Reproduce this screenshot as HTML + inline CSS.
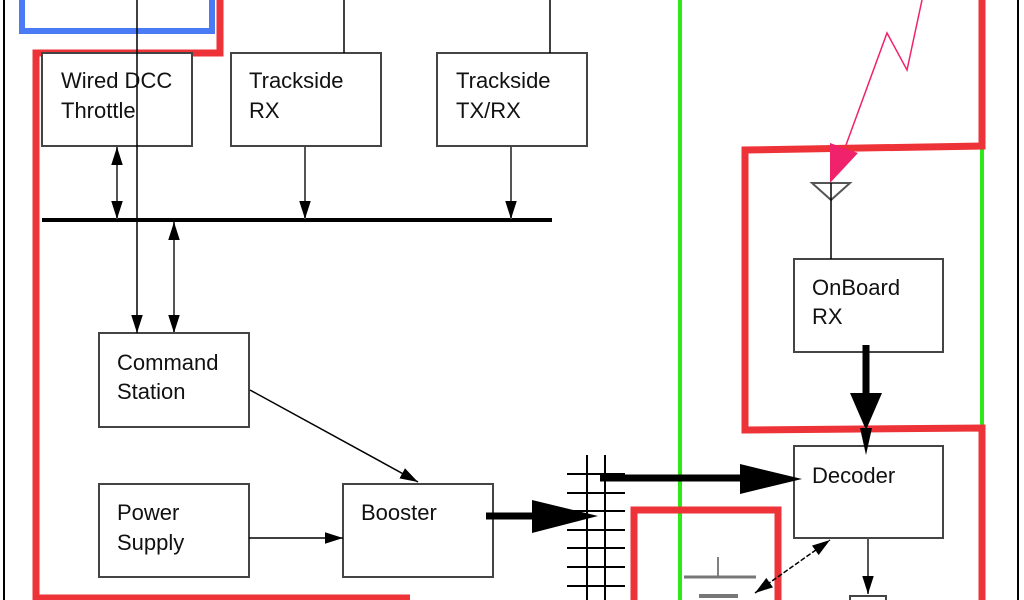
<!DOCTYPE html>
<html><head><meta charset="utf-8"><style>
html,body{margin:0;padding:0;background:#fff;}
svg{display:block;}
text{font-family:"Liberation Sans",sans-serif;font-size:22px;fill:#111;}
</style></head><body>
<svg width="1024" height="600" viewBox="0 0 1024 600" xmlns="http://www.w3.org/2000/svg">
<defs>
<marker id="a" viewBox="0 0 10 10" refX="10" refY="5" markerWidth="18" markerHeight="18" markerUnits="userSpaceOnUse" orient="auto-start-reverse"><path d="M0,1.8 L10,5 L0,8.2 z" fill="#000"/></marker>
</defs>
<line x1="4" y1="0" x2="4" y2="600" stroke="#000" stroke-width="2"/>
<line x1="1018" y1="0" x2="1018" y2="600" stroke="#000" stroke-width="2"/>
<polyline points="22,0 22,31 212,31 212,0" fill="none" stroke="#4a7bf5" stroke-width="6"/>
<line x1="680" y1="0" x2="680" y2="600" stroke="#2ee81a" stroke-width="4"/>
<line x1="982" y1="148" x2="982" y2="430" stroke="#2ee81a" stroke-width="4"/>
<polyline points="220,0 220,53 36,53 36,598 410,598" fill="none" stroke="#ee3338" stroke-width="7"/>
<polyline points="982,0 982,146 745,150 745,430 982,428 982,600" fill="none" stroke="#ee3338" stroke-width="7"/>
<polyline points="634,600 634,510 778,510 778,600" fill="none" stroke="#ee3338" stroke-width="7"/>
<g fill="#fff" stroke="#444" stroke-width="2">
<rect x="42" y="53" width="150" height="93"/>
<rect x="231" y="53" width="150" height="93"/>
<rect x="437" y="53" width="150" height="93"/>
<rect x="99" y="333" width="150" height="94"/>
<rect x="99" y="484" width="150" height="93"/>
<rect x="343" y="484" width="150" height="93"/>
<rect x="794" y="259" width="149" height="93"/>
<rect x="794" y="446" width="149" height="92"/>
<rect x="850" y="596" width="36" height="10"/>
</g>
<line x1="344" y1="0" x2="344" y2="53" stroke="#000" stroke-width="1.5"/>
<line x1="550" y1="0" x2="550" y2="53" stroke="#000" stroke-width="1.5"/>
<line x1="137" y1="0" x2="137" y2="333" stroke="#000" stroke-width="1.5" marker-end="url(#a)"/>
<line x1="42" y1="220" x2="552" y2="220" stroke="#000" stroke-width="4"/>
<g stroke="#555" stroke-width="2" fill="none">
<line x1="117" y1="147" x2="117" y2="219" marker-start="url(#a)" marker-end="url(#a)"/>
<line x1="174" y1="222" x2="174" y2="333" marker-start="url(#a)" marker-end="url(#a)"/>
<line x1="305" y1="147" x2="305" y2="219" marker-end="url(#a)"/>
<line x1="511" y1="147" x2="511" y2="219" marker-end="url(#a)"/>
<line x1="868" y1="538" x2="868" y2="594" marker-end="url(#a)"/>
</g>
<line x1="250" y1="390" x2="418" y2="482" stroke="#000" stroke-width="1.5" marker-end="url(#a)"/>
<line x1="249" y1="538" x2="343" y2="538" stroke="#000" stroke-width="1.5" marker-end="url(#a)"/>
<line x1="755" y1="593" x2="830" y2="540" stroke="#000" stroke-width="1.5" stroke-dasharray="5,2" marker-start="url(#a)" marker-end="url(#a)"/>
<line x1="486" y1="516" x2="540" y2="516" stroke="#000" stroke-width="7"/>
<polygon points="532,500 598,516 532,533" fill="#000"/>
<line x1="600" y1="478" x2="745" y2="478" stroke="#000" stroke-width="7"/>
<polygon points="740,464 802,479 740,494" fill="#000"/>
<line x1="866" y1="345" x2="866" y2="400" stroke="#000" stroke-width="7"/>
<polygon points="850,393 882,393 866,430" fill="#000"/>
<polygon points="860,428 872,428 866,455" fill="#000"/>
<g stroke="#000" stroke-width="2">
<line x1="587" y1="455" x2="587" y2="600"/>
<line x1="605" y1="455" x2="605" y2="600"/>
<line x1="567" y1="474" x2="625" y2="474"/>
<line x1="567" y1="493" x2="625" y2="493"/>
<line x1="567" y1="511" x2="625" y2="511"/>
<line x1="567" y1="530" x2="625" y2="530"/>
<line x1="567" y1="548" x2="625" y2="548"/>
<line x1="567" y1="567" x2="625" y2="567"/>
<line x1="567" y1="586" x2="625" y2="586"/>
</g>
<line x1="718" y1="557" x2="718" y2="577" stroke="#555" stroke-width="1.5"/>
<line x1="684" y1="577" x2="756" y2="577" stroke="#777" stroke-width="3"/>
<line x1="699" y1="596" x2="738" y2="596" stroke="#777" stroke-width="4"/>
<polyline points="922,0 907,70 887,33 846,145" fill="none" stroke="#f0226b" stroke-width="1.5"/>
<polygon points="830,143 858,153 830,183" fill="#f0226b"/>
<polygon points="812,183 850,183 831,200" fill="none" stroke="#555" stroke-width="2"/>
<line x1="831" y1="183" x2="831" y2="259" stroke="#000" stroke-width="1.5"/>
<text x="61" y="88">Wired DCC</text><text x="61" y="118">Throttle</text>
<text x="249" y="88">Trackside</text><text x="249" y="118">RX</text>
<text x="456" y="88">Trackside</text><text x="456" y="118">TX/RX</text>
<text x="117" y="370">Command</text><text x="117" y="399">Station</text>
<text x="117" y="520">Power</text><text x="117" y="550">Supply</text>
<text x="361" y="520">Booster</text>
<text x="812" y="295">OnBoard</text><text x="812" y="324">RX</text>
<text x="812" y="483">Decoder</text>
</svg>
</body></html>
